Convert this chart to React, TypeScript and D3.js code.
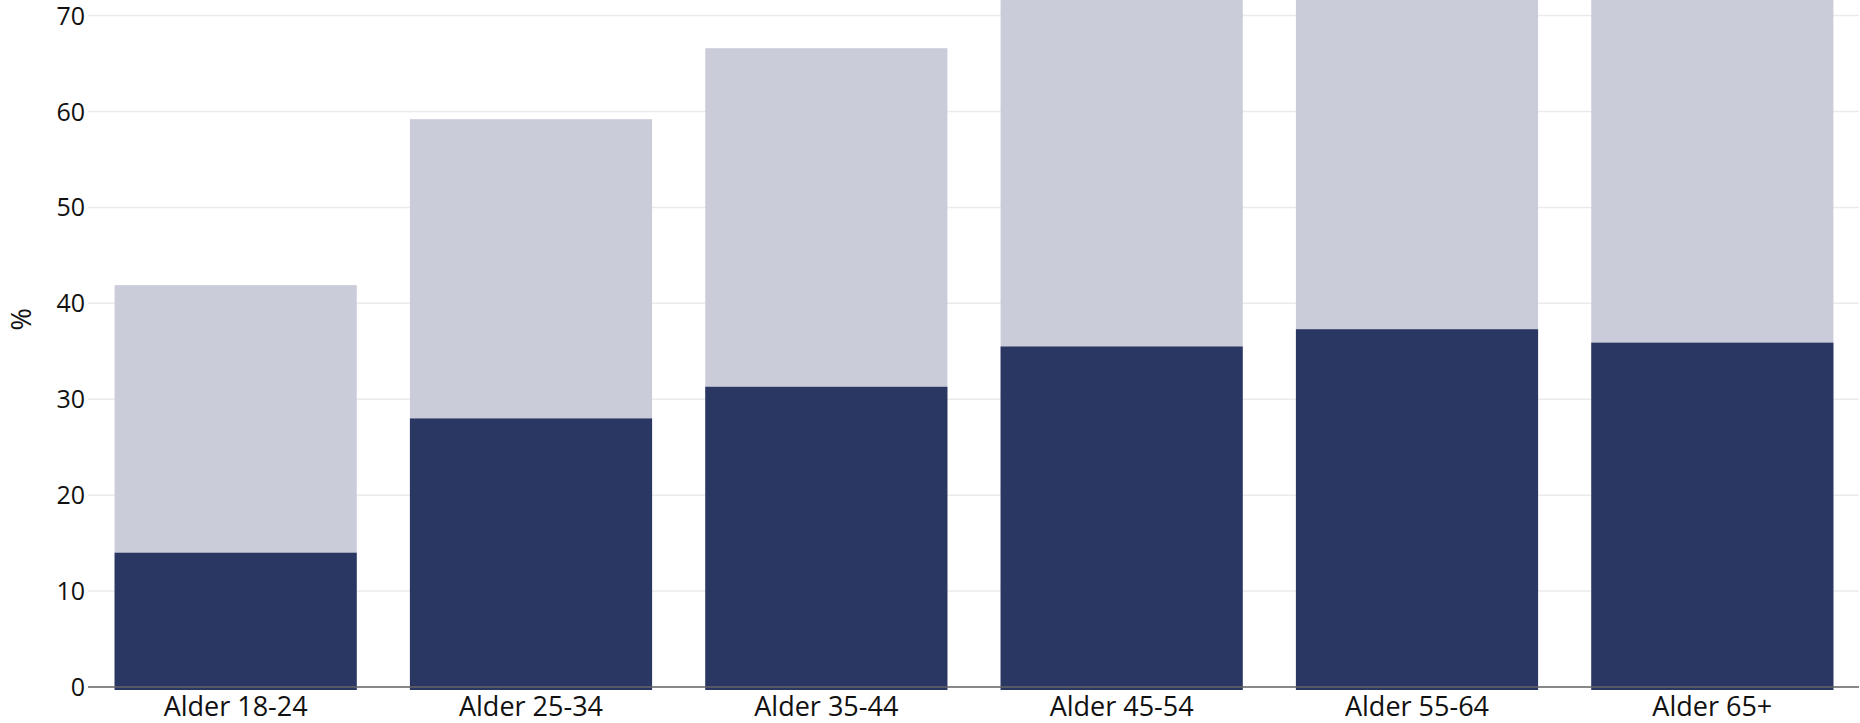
import React from "react";
import * as d3 from "d3";

const categories = ["Alder 18-24", "Alder 25-34", "Alder 35-44", "Alder 45-54", "Alder 55-64", "Alder 65+"];
const totalValues = [41.9, 59.2, 66.6, 74, 76, 77];
const partValues = [14.0, 28.0, 31.3, 35.5, 37.3, 35.9];
const yTicks = [0, 10, 20, 30, 40, 50, 60, 70];

const W = 1860;
const H = 723;
const margin = { left: 88, right: 0, top: 0, bottom: 36 };
const FONT = "'Open Sans', 'Noto Sans', sans-serif";

export default function App() {
  const x = d3
    .scaleBand<string>()
    .domain(categories)
    .range([margin.left, W - margin.right])
    .paddingInner(0.18)
    .paddingOuter(0.09);
  const y = d3.scaleLinear().domain([0, 70]).range([687, 15.6]);
  const y0 = y(0);

  return (
    <svg width={W} height={H} style={{ position: "absolute", left: 0, top: 0, background: "#fff" }}>
      <g>
        {yTicks.map((t) => (
          <g key={t}>
            <line x1={margin.left} x2={W - 1} y1={y(t)} y2={y(t)} stroke="#ebebeb" strokeWidth={1.5} />
            <text x={85} y={y(t)} dy="0.36em" textAnchor="end" fontFamily={FONT} fontSize={25} fill="#111">
              {t}
            </text>
          </g>
        ))}
      </g>
      <g>
        {categories.map((c, i) => (
          <g key={c}>
            <rect
              x={x(c)}
              y={y(totalValues[i])}
              width={x.bandwidth()}
              height={y0 + 3 - y(totalValues[i])}
              fill="#caccd9"
            />
            <rect
              x={x(c)}
              y={y(partValues[i])}
              width={x.bandwidth()}
              height={y0 + 3 - y(partValues[i])}
              fill="#2b3763"
            />
          </g>
        ))}
      </g>
      <line x1={margin.left} x2={W - 1} y1={y0} y2={y0} stroke="#666" strokeWidth={1.5} />
      <g>
        {categories.map((c) => (
          <text
            key={c}
            x={(x(c) as number) + x.bandwidth() / 2}
            y={716}
            textAnchor="middle"
            fontFamily={FONT}
            fontSize={27}
            fill="#111"
          >
            {c}
          </text>
        ))}
      </g>
      <text
        transform={`translate(31, ${y(40) + 16}) rotate(-90)`}
        textAnchor="middle"
        fontFamily={FONT}
        fontSize={27}
        fill="#111"
      >
        %
      </text>
    </svg>
  );
}
